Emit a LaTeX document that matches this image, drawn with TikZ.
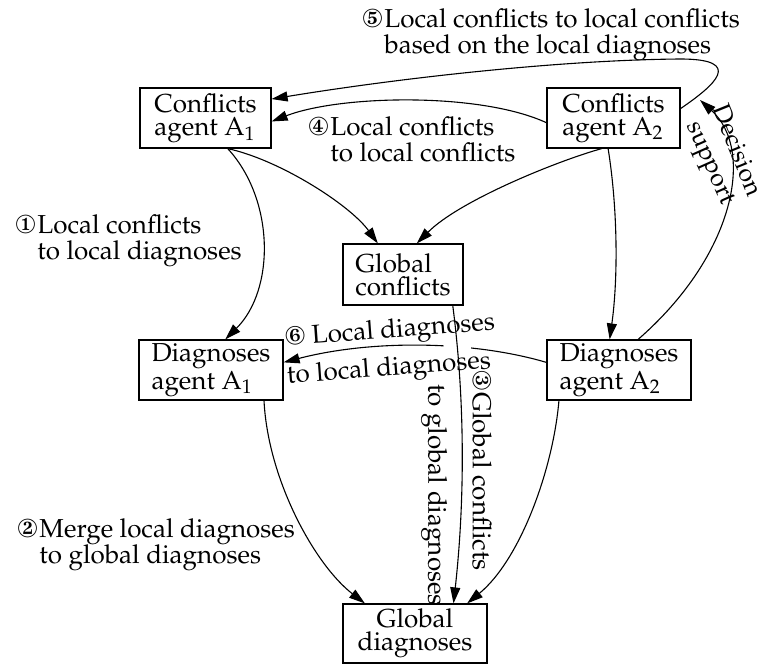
\documentclass[tikz,border=0pt]{standalone}
\usepackage[T1]{fontenc}
\usepackage{mathpazo}
\usepackage{pifont}
\usetikzlibrary{arrows.meta}
\newcommand\clab[3]{\ding{#1}\hspace{0.8pt}\begin{tabular}[t]{@{}l@{}}#2\\#3\end{tabular}}
\begin{document}
\begin{tikzpicture}[x=0.5pt,y=-0.5pt,
  every node/.style={font=\fontsize{13}{11.5}\selectfont},
  box/.style={draw, line width=0.6pt, inner sep=0pt, minimum height=30pt, align=left},
  lab/.style={inner sep=0pt, anchor=base west, font=\fontsize{13}{12}\selectfont},
  edgelab/.style={inner sep=0pt},
  dslab/.style={inner sep=0pt, font=\fontsize{12.5}{12}\selectfont},
  conn/.style={line width=0.55pt, -{Triangle[length=8pt,width=5pt]}},
]
\useasboundingbox (0,0) rectangle (762,664);
% boxes
\node[box, minimum width=65.5pt] (CA1) at (205.5,118) {Conflicts\\agent A$_1$};
\node[box, minimum width=66.5pt] (CA2) at (613.5,118) {Conflicts\\agent A$_2$};
\node[box, minimum width=60pt, minimum height=30.5pt] (GC) at (403,274.5) {Global\\conflicts};
\node[box, minimum width=72pt] (DA1) at (211,370) {Diagnoses\\agent A$_1$};
\node[box, minimum width=72pt] (DA2) at (619,370) {Diagnoses\\agent A$_2$};
\node[box, minimum width=72pt, minimum height=29.5pt, align=center] (GD) at (415,633.5) {Global\\diagnoses};
\coordinate (dsend) at (700,100);
% connectors
\draw[conn] (CA1.-54) .. controls (275,200) and (275,290) .. (DA1.65);
\draw[conn] (CA1.-54) .. controls (280,160) and (350,205) .. (GC.129);
\draw[conn] (CA2.-111) .. controls (560,160) and (460,200) .. (GC.66);
\draw[conn] (CA2.-100) .. controls (618,210) and (618,280) .. (DA2.107);
\draw[conn] (CA2.184) .. controls (480,92) and (340,95) .. (CA1.-3);
\draw[conn] (CA2.8) .. controls (715,85) and (745,59) .. (680,59) .. controls (560,60) and (400,78) .. (CA1.16);
\draw[conn] (DA2.58) .. controls (735,255) and (755,150) .. (dsend);
\draw[conn] (DA2.174) .. controls (470,340) and (370,340) .. (DA1.6);
\begin{scope}
  \clip (430,332) rectangle (485,362);
  \draw[white, line width=13.5pt] (GC.-32) .. controls (465,400) and (465,500) .. (GD.38);
\end{scope}
\draw[conn] (GC.-32) .. controls (465,400) and (465,500) .. (GD.38);
\draw[conn] (DA1.-30) .. controls (268,480) and (315,565) .. (GD.149);
\draw[conn] (DA2.207) .. controls (553,470) and (520,560) .. (GD.30);
% labels
\node[lab] (L5) at (362,27) {\clab{176}{Local conflicts to local conflicts}{based on the local diagnoses}};
\node[lab] (L4) at (308,135) {\clab{175}{Local conflicts}{to local conflicts}};
\node[lab] (L1) at (15,233) {\clab{172}{Local conflicts}{to local diagnoses}};
\node[lab] (L2) at (17,537) {\clab{173}{Merge local diagnoses}{to global diagnoses}};
\node[edgelab, rotate=4.2] (L6a) at (390,332) {\ding{177} Local diagnoses};
\node[edgelab, rotate=4.2] (L6b) at (389,370) {to local diagnoses};
\node[edgelab, rotate=-90] (L3a) at (482,470.5) {\ding{174}\hspace{0.8pt}Global conflicts};
\node[edgelab, rotate=-90] (L3b) at (434,495) {to global diagnoses};
\node[dslab, rotate=-68] (Ldec) at (738,150) {Decision};
\node[dslab, rotate=-66] (Lsup) at (708,164) {support};
\end{tikzpicture}
\end{document}
